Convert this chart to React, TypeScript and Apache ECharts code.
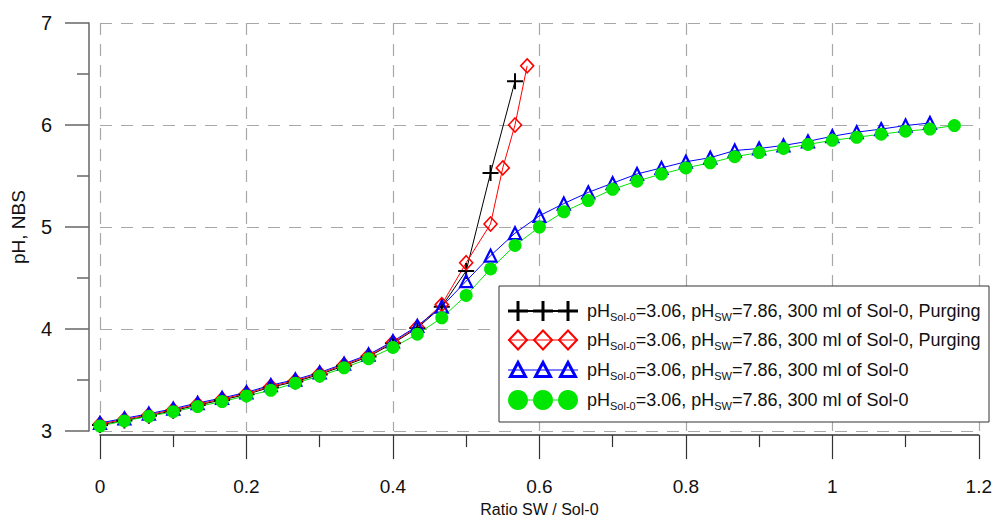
import React, { useEffect, useRef } from 'react';
import * as echarts from 'echarts';

// Common ratio grid (SW / Sol-0)
const ratioGrid = [
  0, 0.0333, 0.0667, 0.1, 0.1333, 0.1667, 0.2, 0.2333, 0.2667, 0.3, 0.3333, 0.3667,
  0.4, 0.4333, 0.4667, 0.5, 0.5333, 0.5667, 0.6, 0.6333, 0.6667, 0.7, 0.7333, 0.7667,
  0.8, 0.8333, 0.8667, 0.9, 0.9333, 0.9667, 1.0, 1.0333, 1.0667, 1.1, 1.1333, 1.1667,
];

// Series 1: black crosses (Purging)
const blackX = [
  0, 0.0333, 0.0667, 0.1, 0.1333, 0.1667, 0.2, 0.2333, 0.2667, 0.3, 0.3333, 0.3667,
  0.4, 0.4333, 0.4667, 0.5, 0.5333, 0.5667,
];
const blackPH = [
  3.06, 3.105, 3.15, 3.2, 3.255, 3.305, 3.36, 3.43, 3.485, 3.555, 3.64, 3.73,
  3.86, 4.01, 4.22, 4.57, 5.53, 6.43,
];

// Series 2: red diamonds (Purging)
const redX = [
  0, 0.0333, 0.0667, 0.1, 0.1333, 0.1667, 0.2, 0.2333, 0.2667, 0.3, 0.3333, 0.3667,
  0.4, 0.4333, 0.4667, 0.5, 0.5333, 0.55, 0.5667, 0.5833,
];
const redPH = [
  3.07, 3.115, 3.16, 3.21, 3.265, 3.315, 3.37, 3.44, 3.495, 3.565, 3.65, 3.74,
  3.87, 4.02, 4.24, 4.65, 5.03, 5.58, 6.0, 6.58,
];

// Series 3: blue triangles (on ratioGrid)
const bluePH = [
  3.08, 3.125, 3.17, 3.22, 3.275, 3.325, 3.38, 3.45, 3.505, 3.575, 3.66, 3.75,
  3.88, 4.03, 4.22, 4.47, 4.72, 4.94, 5.11, 5.23, 5.34, 5.43, 5.52, 5.58,
  5.64, 5.68, 5.75, 5.77, 5.8, 5.84, 5.89, 5.93, 5.96, 5.995, 6.02,
];

// Series 4: green circles (on ratioGrid)
const greenPH = [
  3.05, 3.1, 3.145, 3.19, 3.24, 3.29, 3.345, 3.4, 3.47, 3.54, 3.62, 3.71,
  3.82, 3.95, 4.11, 4.33, 4.59, 4.82, 5.0, 5.15, 5.26, 5.37, 5.45, 5.52,
  5.58, 5.63, 5.69, 5.73, 5.77, 5.81, 5.85, 5.88, 5.91, 5.94, 5.96, 5.995,
];

const xTickLabels = ['0', '0.2', '0.4', '0.6', '0.8', '1', '1.2'];
const yTickLabels = ['3', '4', '5', '6', '7'];

const legendTexts = [
  '{a|pH}{b|Sol-0}{a|=3.06, pH}{b|SW}{a|=7.86, 300 ml of Sol-0, Purging}',
  '{a|pH}{b|Sol-0}{a|=3.06, pH}{b|SW}{a|=7.86, 300 ml of Sol-0, Purging}',
  '{a|pH}{b|Sol-0}{a|=3.06, pH}{b|SW}{a|=7.86, 300 ml of Sol-0}',
  '{a|pH}{b|Sol-0}{a|=3.06, pH}{b|SW}{a|=7.86, 300 ml of Sol-0}',
];

const FONT = '"Liberation Sans", Arial, sans-serif';
const GREEN = '#00e600';
const CROSS = 'path://M7,0H9V7H16V9H9V16H7V9H0V7H7Z';

function buildLegend(): any[] {
  const els: any[] = [];
  const boxX = 499, boxY = 286, boxW = 490, boxH = 136;
  els.push({
    type: 'rect', z: 100,
    shape: { x: boxX, y: boxY, width: boxW, height: boxH },
    style: { fill: '#fff', stroke: '#333', lineWidth: 1 },
  });
  const rowsY = [311, 340, 370, 400];
  const mx = [518, 543, 568];
  const kinds = ['cross', 'diamond', 'triangle', 'circle'];
  const colors = ['#000', '#ff0000', '#0000ff', GREEN];
  kinds.forEach((k, i) => {
    const cy = rowsY[i];
    els.push({
      type: 'line', z: 101,
      shape: { x1: 508, y1: cy, x2: 578, y2: cy },
      style: { stroke: colors[i], lineWidth: k === 'cross' ? 2 : 1 },
    });
    mx.forEach((cx) => {
      if (k === 'cross') {
        els.push({ type: 'line', z: 102, shape: { x1: cx - 10, y1: cy, x2: cx + 10, y2: cy }, style: { stroke: '#000', lineWidth: 3 } });
        els.push({ type: 'line', z: 102, shape: { x1: cx, y1: cy - 10, x2: cx, y2: cy + 10 }, style: { stroke: '#000', lineWidth: 3 } });
      } else if (k === 'diamond') {
        els.push({
          type: 'polygon', z: 102,
          shape: { points: [[cx, cy - 9.5], [cx + 9, cy], [cx, cy + 9.5], [cx - 9, cy]] },
          style: { fill: 'none', stroke: colors[i], lineWidth: 2 },
        });
      } else if (k === 'triangle') {
        els.push({
          type: 'polygon', z: 102,
          shape: { points: [[cx, cy - 7.5], [cx + 7.5, cy + 6.5], [cx - 7.5, cy + 6.5]] },
          style: { fill: 'none', stroke: colors[i], lineWidth: 3 },
        });
      } else {
        els.push({ type: 'circle', z: 102, shape: { cx, cy, r: 10 }, style: { fill: GREEN } });
      }
    });
    els.push({
      type: 'text', z: 103, x: 587, y: cy,
      style: {
        text: legendTexts[i],
        verticalAlign: 'middle',
        align: 'left',
        rich: {
          a: { fontSize: 18, fontFamily: FONT, fill: '#111', lineHeight: 18, verticalAlign: 'top' },
          b: { fontSize: 11, fontFamily: FONT, fill: '#111', lineHeight: 11, verticalAlign: 'top', padding: [9, 0, 0, 0] },
        },
      },
    });
  });
  return els;
}

export default function App() {
  const ref = useRef<HTMLDivElement>(null);
  useEffect(() => {
    if (!ref.current) return;
    const chart = echarts.init(ref.current, null, { renderer: 'svg' });
    const blackData = blackX.map((x, i) => [x, blackPH[i]]);
    const redData = redX.map((x, i) => [x, redPH[i]]);
    const blueData = bluePH.map((v, i) => [ratioGrid[i], v]);
    const greenData = greenPH.map((v, i) => [ratioGrid[i], v]);
    const gridLine = { show: true, lineStyle: { color: '#a8a8a8', type: [12, 9], width: 1.2 } };
    chart.setOption({
      animation: false,
      backgroundColor: '#fff',
      grid: { left: 100, right: 16, top: 23, bottom: 86, containLabel: false },
      xAxis: {
        type: 'value', min: 0, max: 1.2, interval: 0.2, offset: 4,
        axisLine: { show: true, onZero: false, lineStyle: { color: '#333', width: 1.5 } },
        axisTick: { show: true, inside: false, length: 24, lineStyle: { color: '#333', width: 1.2 } },
        minorTick: { show: true, splitNumber: 2, length: 12, lineStyle: { color: '#333', width: 1.2 } },
        splitLine: gridLine,
        axisLabel: {
          margin: 42, fontSize: 19, color: '#111', fontFamily: FONT,
          formatter: (v: number) => xTickLabels[Math.round(v / 0.2)] ?? '',
        },
        name: 'Ratio SW / Sol-0', nameLocation: 'middle', nameGap: 65,
        nameTextStyle: { fontSize: 16, color: '#111', fontFamily: FONT },
      },
      yAxis: {
        type: 'value', min: 3, max: 7, interval: 1, offset: 11,
        axisLine: { show: true, onZero: false, lineStyle: { color: '#666', width: 1.5 } },
        axisTick: { show: true, inside: false, length: 24, lineStyle: { color: '#666', width: 1.5 } },
        minorTick: { show: true, splitNumber: 2, length: 12, lineStyle: { color: '#666', width: 1.5 } },
        splitLine: gridLine,
        axisLabel: {
          margin: 37, fontSize: 20, color: '#111', fontFamily: FONT,
          formatter: (v: number) => yTickLabels[Math.round(v - 3)] ?? '',
        },
        name: 'pH, NBS', nameLocation: 'middle', nameGap: 61,
        nameTextStyle: { fontSize: 19, color: '#111', fontFamily: FONT },
      },
      series: [
        {
          type: 'line', data: blackData, symbol: CROSS, symbolSize: 16, showAllSymbol: true,
          itemStyle: { color: '#000' }, lineStyle: { color: '#000', width: 1 }, silent: true,
        },
        {
          type: 'line', data: redData, symbol: 'diamond', symbolSize: [13, 14], showAllSymbol: true,
          itemStyle: { color: 'rgba(0,0,0,0)', borderColor: '#ff0000', borderWidth: 1.6 },
          lineStyle: { color: '#ff0000', width: 1 }, silent: true,
        },
        {
          type: 'line', data: blueData, symbol: 'triangle', symbolSize: 12, showAllSymbol: true,
          itemStyle: { color: 'rgba(0,0,0,0)', borderColor: '#0000ff', borderWidth: 2.2 },
          lineStyle: { color: '#0000ff', width: 1 }, silent: true,
        },
        {
          type: 'line', data: greenData, symbol: 'circle', symbolSize: 13, showAllSymbol: true,
          itemStyle: { color: GREEN }, lineStyle: { color: GREEN, width: 1 }, silent: true,
        },
      ],
      graphic: buildLegend(),
    });
    return () => chart.dispose();
  }, []);
  return (
    <div
      ref={ref}
      style={{ position: 'absolute', left: 0, top: 0, width: 995, height: 522, background: '#fff' }}
    />
  );
}
